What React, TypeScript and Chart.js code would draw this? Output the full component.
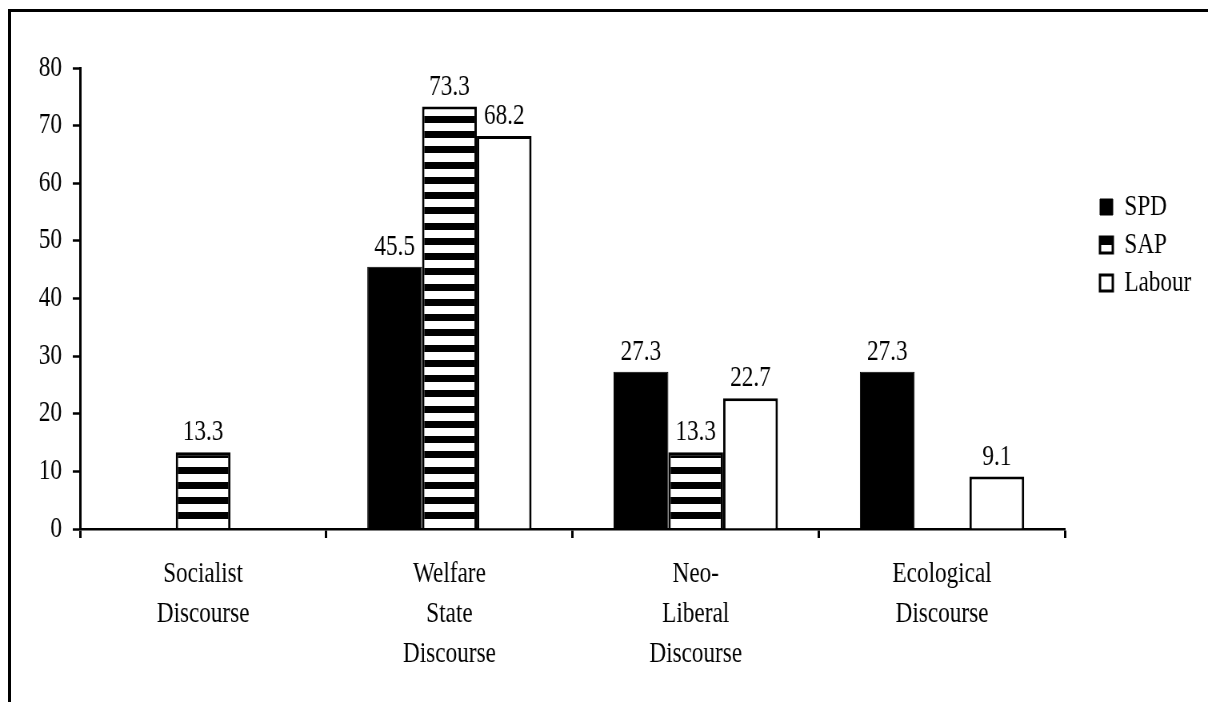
import React, { useEffect, useRef } from 'react';
import { Chart, registerables } from 'chart.js';

Chart.register(...registerables);

// ---- data ----
const categories: string[][] = [
  ['Socialist', 'Discourse'],
  ['Welfare', 'State', 'Discourse'],
  ['Neo-', 'Liberal', 'Discourse'],
  ['Ecological', 'Discourse'],
];
const seriesNames = ['SPD', 'SAP', 'Labour'];
const spdValues: (number | null)[] = [null, 45.5, 27.3, 27.3];
const sapValues: (number | null)[] = [13.3, 73.3, 13.3, null];
const labourValues: (number | null)[] = [null, 68.2, 22.7, 9.1];
const yMin = 0;
const yMax = 80;
const yStep = 10;

// ---- layout ----
const FONT = "'Liberation Serif', 'Times New Roman', serif";
const SX = 0.8; // horizontal compression of the reference
const VIEW_W = 1200;
const VIEW_H = 686;
const CW = VIEW_W / SX;
const CH = VIEW_H;

function makeStripes(ctx: CanvasRenderingContext2D): CanvasPattern | string {
  const c = document.createElement('canvas');
  c.width = 4;
  c.height = 61;
  const g = c.getContext('2d');
  if (!g) return '#000';
  g.fillStyle = '#fff';
  g.fillRect(0, 0, 4, 61);
  g.fillStyle = '#000';
  [1, 16, 32, 47].forEach((y) => g.fillRect(0, y, 4, 7));
  return ctx.createPattern(c, 'repeat') || '#000';
}

const valueLabels = {
  id: 'valueLabels',
  afterDatasetsDraw(chart: any) {
    const ctx = chart.ctx as CanvasRenderingContext2D;
    ctx.save();
    ctx.font = `29px ${FONT}`;
    ctx.fillStyle = '#000';
    ctx.textAlign = 'center';
    ctx.textBaseline = 'alphabetic';
    chart.data.datasets.forEach((ds: any, i: number) => {
      const meta = chart.getDatasetMeta(i);
      meta.data.forEach((el: any, j: number) => {
        const v = ds.data[j];
        if (v == null) return;
        ctx.fillText(Number(v).toFixed(1), el.x, el.y - 12);
      });
    });
    ctx.restore();
  },
};

export default function App() {
  const ref = useRef<HTMLCanvasElement | null>(null);

  useEffect(() => {
    const prevHtml = document.documentElement.style.overflow;
    const prevBody = document.body.style.overflow;
    document.documentElement.style.overflow = 'hidden';
    document.body.style.overflow = 'hidden';

    const canvas = ref.current;
    if (!canvas) return;
    const ctx = canvas.getContext('2d') as CanvasRenderingContext2D;
    const stripes = makeStripes(ctx);

    const chart = new Chart(ctx, {
      type: 'bar',
      data: {
        labels: categories as any,
        datasets: [
          {
            label: seriesNames[0],
            data: spdValues,
            backgroundColor: '#000',
            borderColor: '#000',
            borderWidth: 1,
          },
          {
            label: seriesNames[1],
            data: sapValues,
            backgroundColor: stripes as any,
            borderColor: '#000',
            borderWidth: 3,
          },
          {
            label: seriesNames[2],
            data: labourValues,
            backgroundColor: '#fff',
            borderColor: '#000',
            borderWidth: 3,
          },
        ],
      },
      options: {
        responsive: false,
        maintainAspectRatio: false,
        animation: false,
        devicePixelRatio: 1,
        datasets: {
          bar: {
            categoryPercentage: 0.667,
            barPercentage: 1.0,
          },
        },
        layout: {
          padding: { top: 60, left: 0, right: 10.75, bottom: 0 },
        },
        plugins: {
          tooltip: { enabled: false },
          title: { display: false },
          legend: {
            display: true,
            position: 'right',
            align: 'start',
            fullSize: false,
            title: {
              display: true,
              text: ' ',
              font: { size: 10, family: FONT },
              padding: { top: 103.5, bottom: 0 },
            },
            labels: {
              boxWidth: 16,
              boxHeight: 16,
              padding: 9,
              color: '#000',
              font: { size: 29, family: FONT },
            },
          },
        },
        scales: {
          x: {
            type: 'category',
            position: 'bottom',
            grid: {
              display: true,
              drawOnChartArea: false,
              drawTicks: true,
              tickLength: 9,
              tickColor: '#000',
              tickWidth: 3,
              offset: true,
            },
            border: { display: true, color: '#000', width: 2.5 },
            ticks: {
              color: '#000',
              font: { size: 29, family: FONT, lineHeight: 40 / 29 },
              padding: 16,
              maxRotation: 0,
              minRotation: 0,
              autoSkip: false,
            },
            afterFit: (s: any) => {
              s.height = CH - 521;
            },
          },
          y: {
            type: 'linear',
            position: 'left',
            min: yMin,
            max: yMax,
            grid: {
              display: true,
              drawOnChartArea: false,
              drawTicks: true,
              tickLength: 9,
              tickColor: '#000',
              tickWidth: 2.5,
            },
            border: { display: true, color: '#000', width: 3 },
            ticks: {
              stepSize: yStep,
              color: '#000',
              font: { size: 29, family: FONT },
              padding: 13.5,
            },
            afterFit: (s: any) => {
              s.width = 90;
            },
          },
          spacer: {
            type: 'linear',
            position: 'right',
            display: true,
            grid: { display: false, drawTicks: false },
            border: { display: false },
            ticks: { display: false },
            afterFit: (s: any) => {
              s.width = 34.5;
            },
          },
        },
      } as any,
      plugins: [valueLabels],
    });

    return () => {
      chart.destroy();
      document.documentElement.style.overflow = prevHtml;
      document.body.style.overflow = prevBody;
    };
  }, []);

  return (
    <div style={{ position: 'relative', width: VIEW_W, height: VIEW_H - 10 }}>
      <div
        style={{
          position: 'absolute',
          left: 0,
          top: 0,
          width: VIEW_W,
          height: VIEW_H,
          overflow: 'hidden',
          background: '#fff',
        }}
      >
        <div
          style={{
            position: 'absolute',
            left: 0,
            top: 0,
            width: CW,
            height: CH,
            transform: `scaleX(${SX})`,
            transformOrigin: '0 0',
          }}
        >
          <canvas
            ref={ref}
            width={CW}
            height={CH}
            style={{ width: CW, height: CH, display: 'block' }}
          />
        </div>
      </div>
      <div
        style={{
          position: 'fixed',
          left: 8,
          top: 9,
          width: 1300,
          height: 3,
          background: '#000',
          pointerEvents: 'none',
        }}
      />
      <div
        style={{
          position: 'fixed',
          left: 8,
          top: 9,
          width: 3,
          height: 800,
          background: '#000',
          pointerEvents: 'none',
        }}
      />
    </div>
  );
}
